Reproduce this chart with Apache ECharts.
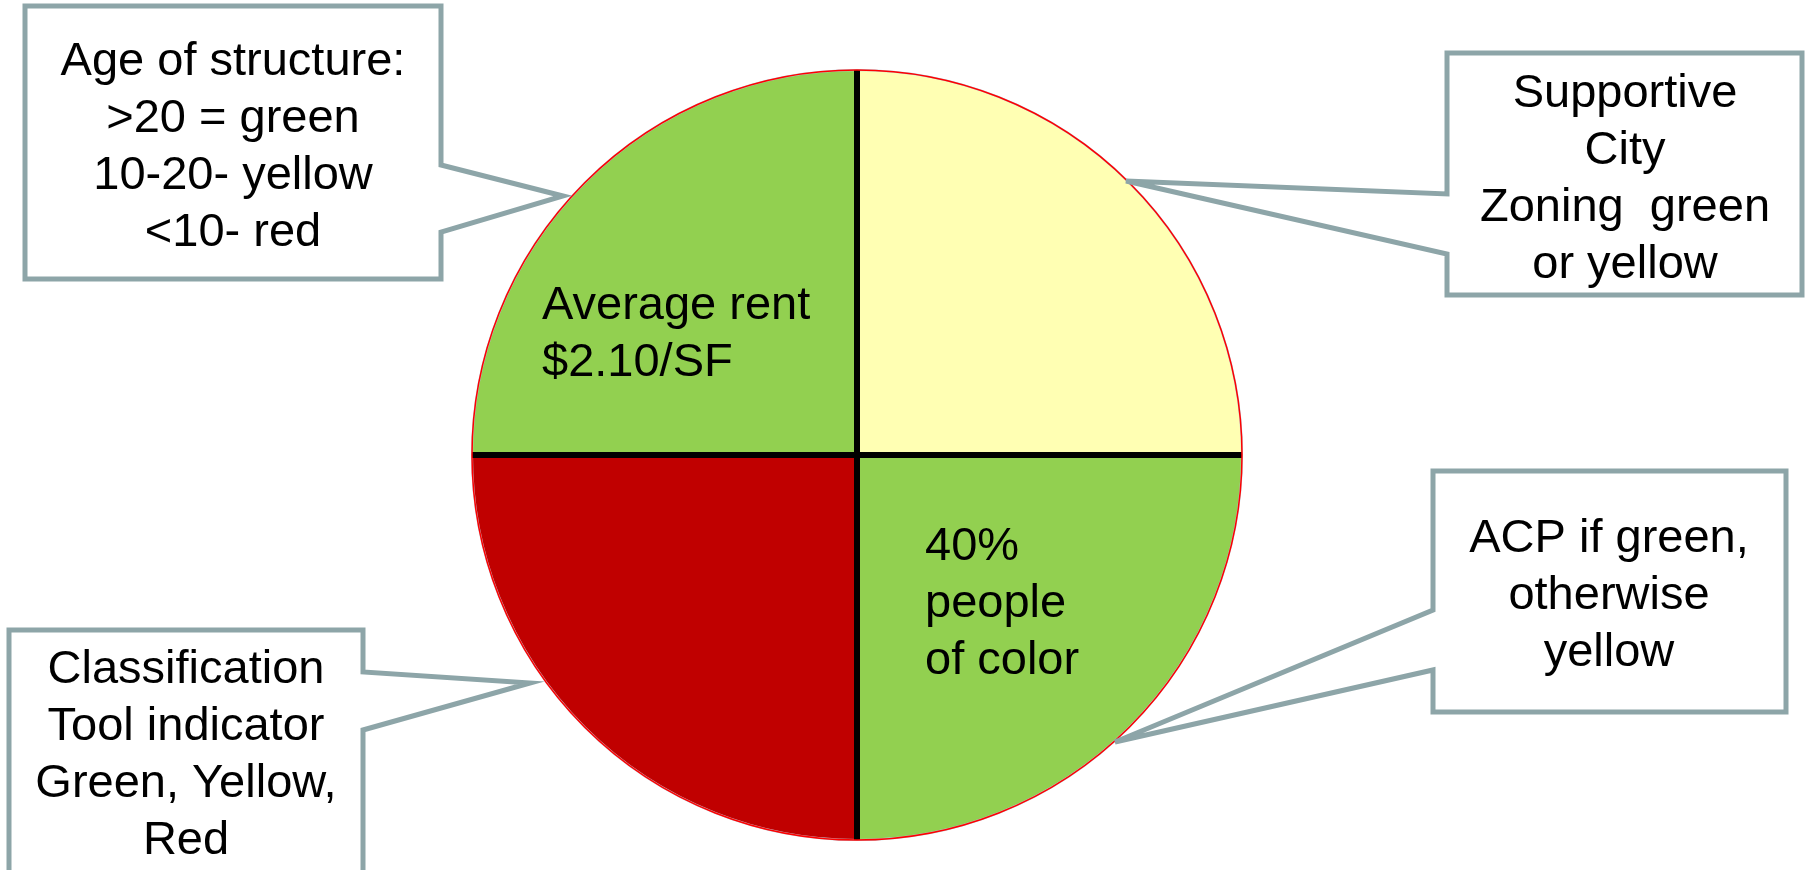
<!DOCTYPE html>
<html>
<head>
<meta charset="utf-8">
<script src="https://cdn.jsdelivr.net/npm/echarts@6/dist/echarts.min.js"></script>
<style>
  html, body { margin: 0; padding: 0; background: #fff; }
  #chart { width: 1810px; height: 870px; }
</style>
</head>
<body>
<div id="chart"></div>
<script>
// slices, clockwise from 12 o'clock
const sliceNames  = ['Supportive City Zoning', 'People of color', 'Classification Tool indicator', 'Average rent']
const sliceValues = [1, 1, 1, 1]
const sliceColors = ['#FFFFB3', '#92D050', '#C00000', '#92D050']

// text written inside slices
const rentLabel  = ['Average rent', '$2.10/SF']
const colorLabel = ['40%', 'people', 'of color']

// callout texts
const ageCallout      = ['Age of structure:', '>20 = green', '10-20- yellow', '<10- red']
const zoningCallout   = ['Supportive', 'City', 'Zoning  green', 'or yellow']
const classCallout    = ['Classification', 'Tool indicator', 'Green, Yellow,', 'Red']
const acpCallout      = ['ACP if green,', 'otherwise', 'yellow']

const CENTER = [857, 455]
const RADIUS = 385
const FONT = '"Liberation Sans", Arial, sans-serif'
const BOX_STROKE = '#8DA5A8'

function callout(points) {
  return {
    type: 'polygon',
    z: 20,
    shape: { points },
    style: { fill: '#fff', stroke: BOX_STROKE, lineWidth: 5, lineJoin: 'miter' },
  }
}

function textBlock(lines, x, y, align) {
  return {
    type: 'text',
    z: 30,
    style: {
      text: lines.join('\n'),
      x, y,
      fill: '#000',
      fontSize: 47,
      fontFamily: FONT,
      lineHeight: 57,
      textAlign: align,
      textVerticalAlign: 'middle',
      align: align,
      verticalAlign: 'middle',
    },
  }
}

const chart = echarts.init(document.getElementById('chart'), null, { renderer: 'canvas' })

chart.setOption({
  animation: false,
  backgroundColor: '#fff',
  polar: { center: CENTER, radius: RADIUS },
  angleAxis: {
    type: 'value',
    min: 0,
    max: 360,
    interval: 90,
    startAngle: 90,
    z: 5,
    axisLine: { show: true, lineStyle: { color: '#FF0000', width: 1.5 } },
    axisTick: { show: false },
    axisLabel: { show: false },
    splitLine: { show: true, lineStyle: { color: '#000', width: 6 } },
  },
  radiusAxis: {
    type: 'value',
    show: false,
    axisLine: { show: false },
    splitLine: { show: false },
  },
  series: [
    {
      type: 'pie',
      z: 1,
      silent: true,
      center: CENTER,
      radius: RADIUS,
      startAngle: 90,
      clockwise: true,
      label: { show: false },
      labelLine: { show: false },
      itemStyle: { borderColor: '#B8CCDA', borderWidth: 2 },
      data: sliceNames.map((name, i) => ({
        name,
        value: sliceValues[i],
        itemStyle: { color: sliceColors[i] },
      })),
    },
  ],
  graphic: [
    textBlock(rentLabel, 542, 335, 'left'),
    textBlock(colorLabel, 925, 604, 'left'),

    callout([[25, 6], [441, 6], [441, 165], [563, 196], [441, 232], [441, 279], [25, 279]]),
    textBlock(ageCallout, 233, 148, 'center'),

    callout([[1447, 53], [1802, 53], [1802, 295], [1447, 295], [1447, 254], [1126, 181], [1447, 194]]),
    textBlock(zoningCallout, 1625, 180, 'center'),

    callout([[9, 630], [363, 630], [363, 672], [530, 683], [363, 730], [363, 880], [9, 880]]),
    textBlock(classCallout, 186, 756, 'center'),

    callout([[1433, 471], [1786, 471], [1786, 712], [1433, 712], [1433, 670], [1115, 742], [1433, 610]]),
    textBlock(acpCallout, 1609, 596, 'center'),
  ],
})
</script>
</body>
</html>
